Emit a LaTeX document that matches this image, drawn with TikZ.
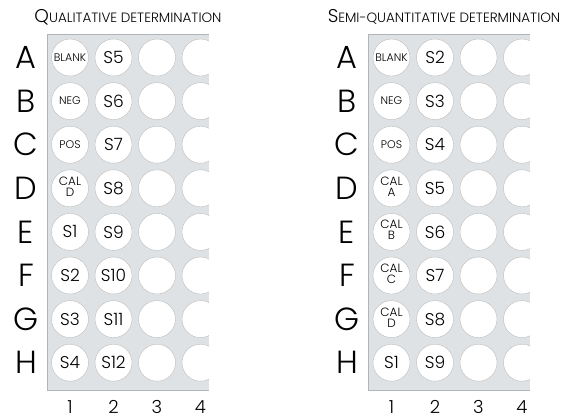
\documentclass[tikz,border=0pt]{standalone}
\usepackage{fontspec}
\setmainfont{Poppins}[UprightFont=* Light]
\usetikzlibrary{positioning}
\definecolor{platefill}{RGB}{223,226,228}
\definecolor{plateline}{RGB}{178,181,184}
\definecolor{wellline}{RGB}{188,188,188}
\tikzset{
  well/.style={circle, draw=wellline, fill=white, minimum size=37pt, inner sep=0pt, font=\fontsize{17}{17}\selectfont},
  rowlab/.style={font=\fontsize{32}{32}\selectfont},
  collab/.style={anchor=base, inner sep=0pt, font=\fontsize{18}{18}\selectfont},
  platetitle/.style={font=\fontsize{18.5}{18.5}\selectfont}
}
\newcommand{\smallcap}[2]{#1{\fontsize{13.5}{13.5}\selectfont #2}}
\newcommand{\wsmall}[1]{{\fontsize{11}{11}\selectfont #1}}
\newcommand{\wcal}[1]{{\fontsize{12}{12.5}\selectfont\begin{tabular}{@{}c@{}}CAL\\[-1.5pt]#1\end{tabular}}}

\begin{document}
\begin{tikzpicture}[x=1pt,y=-1pt]
\useasboundingbox (0,0) rectangle (585,418);
\node[platetitle] (qtitle) at (128,17) {\smallcap{Q}{UALITATIVE DETERMINATION}};
\fill[platefill] (47.5,34) rectangle (209,390);
\draw[plateline] (209,34) -- (47.5,34) -- (47.5,390) -- (209,390);
\begin{scope}
\clip (47.5,34) rectangle (209,390);
\foreach \r/\a/\b [count=\i from 0] in {A/\wsmall{BLANK}/S5, B/\wsmall{NEG}/S6, C/\wsmall{POS}/S7, D/\wcal{D}/S8, E/S1/S9, F/S2/S10, G/S3/S11, H/S4/S12} {
  \node[well] (q\r1) at (70,57.5+43.6*\i) {\a};
  \node[well] (q\r2) at (113.5,57.5+43.6*\i) {\b};
  \node[well] (q\r3) at (157,57.5+43.6*\i) {};
  \node[well] (q\r4) at (200.5,57.5+43.6*\i) {};
}
\end{scope}
\foreach \r [count=\i from 0] in {A,B,C,D,E,F,G,H}
  \node[rowlab] (qrow\r) at (26,57.5+43.6*\i) {\r};
\foreach \c/\x in {1/70,2/113.5,3/157,4/200.5}
  \node[collab] (qcol\c) at (\x,413) {\c};

\node[platetitle] (stitle) at (444,17) {\smallcap{S}{EMI-QUANTITATIVE DETERMINATION}};
\fill[platefill] (368.5,34) rectangle (530,390);
\draw[plateline] (530,34) -- (368.5,34) -- (368.5,390) -- (530,390);
\begin{scope}
\clip (368.5,34) rectangle (530,390);
\foreach \r/\a/\b [count=\i from 0] in {A/\wsmall{BLANK}/S2, B/\wsmall{NEG}/S3, C/\wsmall{POS}/S4, D/\wcal{A}/S5, E/\wcal{B}/S6, F/\wcal{C}/S7, G/\wcal{D}/S8, H/S1/S9} {
  \node[well] (s\r1) at (391.5,57.5+43.6*\i) {\a};
  \node[well] (s\r2) at (435,57.5+43.6*\i) {\b};
  \node[well] (s\r3) at (478.5,57.5+43.6*\i) {};
  \node[well] (s\r4) at (522,57.5+43.6*\i) {};
}
\end{scope}
\foreach \r [count=\i from 0] in {A,B,C,D,E,F,G,H}
  \node[rowlab] (srow\r) at (347,57.5+43.6*\i) {\r};
\foreach \c/\x in {1/391.5,2/435,3/478.5,4/522}
  \node[collab] (scol\c) at (\x,413) {\c};
\end{tikzpicture}
\end{document}
